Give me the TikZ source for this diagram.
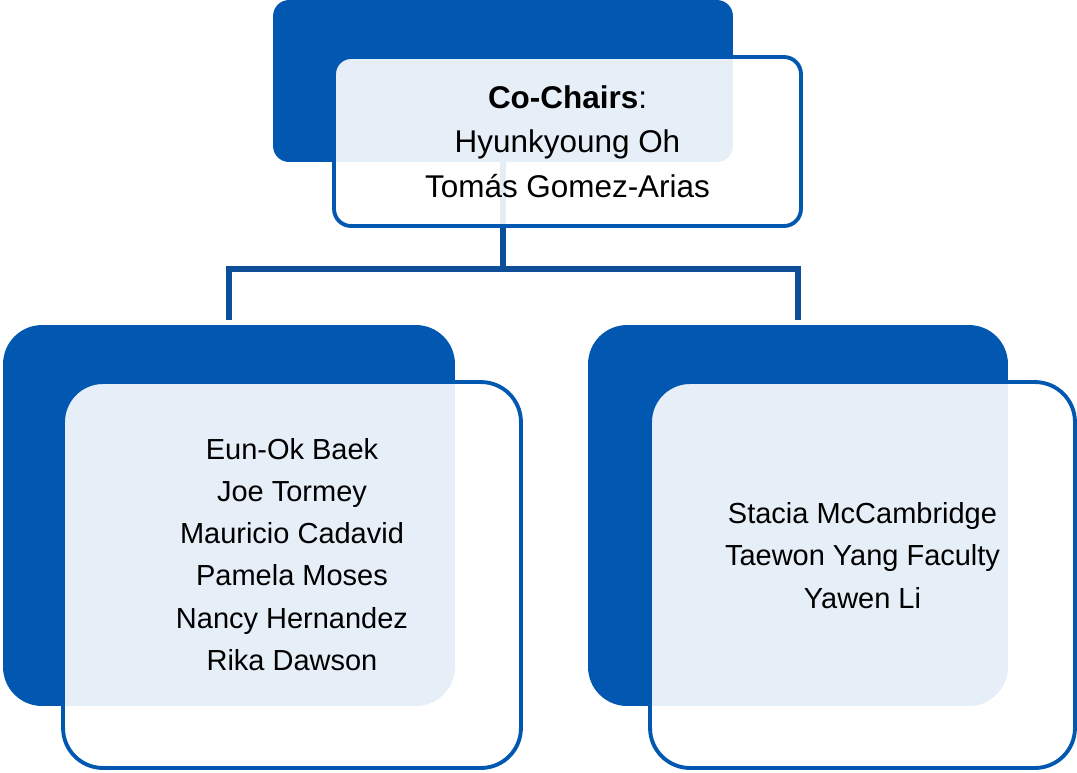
\documentclass[tikz,border=0pt]{standalone}
\usepackage{fontspec}
\setmainfont{Liberation Sans}
\usepackage{tikz}
\usetikzlibrary{positioning}
\usepackage{xcolor}
\definecolor{teamblue}  {RGB}{  2, 88,176}
\definecolor{linkblue}  {RGB}{ 14, 78,152}

\begin{document}
\begin{tikzpicture}[
    x=0.02cm, y=-0.02cm,
    backbox/.style={rectangle, fill=teamblue, inner sep=0pt},
    frontbox/.style={rectangle, draw=teamblue, line width=2.2pt, fill=white, fill opacity=0.9, inner sep=0pt},
    topnames/.style={align=center, font=\fontsize{17.9}{25.3}\selectfont, text=black},
    names/.style={align=center, font=\fontsize{16.5}{24}\selectfont, text=black},
    link/.style={draw=linkblue, line width=2.9pt}
]
    \useasboundingbox (0,0) rectangle (1077,772);

    % Back boxes
    \node[backbox, minimum width=9.2cm, minimum height=3.24cm, rounded corners=0.32cm] (chairsback) at (503,81) {};
    \node[backbox, minimum width=9.04cm, minimum height=7.62cm, rounded corners=0.78cm] (leftback) at (229,515.5) {};
    \node[backbox, minimum width=8.4cm, minimum height=7.62cm, rounded corners=0.78cm] (rightback) at (798,515.5) {};

    % Connectors
    \coordinate (hub) at (503,269);
    \draw[link] (chairsback.south) -- (hub);
    \draw[link, shorten >=0.1cm] (hub) -| (leftback.north);
    \draw[link, shorten >=0.1cm] (hub) -| (rightback.north);

    % Front boxes
    \node[frontbox, minimum width=9.34cm, minimum height=3.38cm, rounded corners=0.34cm] (chairs) at (567.5,141.5) {};
    \node[frontbox, minimum width=9.16cm, minimum height=7.72cm, rounded corners=0.8cm] (leftgroup) at (292,575) {};
    \node[frontbox, minimum width=8.5cm, minimum height=7.72cm, rounded corners=0.8cm] (rightgroup) at (862.5,575) {};

    % Names
    \node[topnames] (chairnames) at (chairs.center) {\textbf{Co-Chairs}:\\Hyunkyoung Oh\\Tomás Gomez-Arias};
    \node[names] (leftnames) at ([yshift=0.41cm]leftgroup.center) {Eun-Ok Baek\\Joe Tormey\\Mauricio Cadavid\\Pamela Moses\\Nancy Hernandez\\Rika Dawson};
    \node[names] (rightnames) at ([yshift=0.39cm]rightgroup.center) {Stacia McCambridge\\Taewon Yang Faculty\\Yawen Li};
\end{tikzpicture}
\end{document}
